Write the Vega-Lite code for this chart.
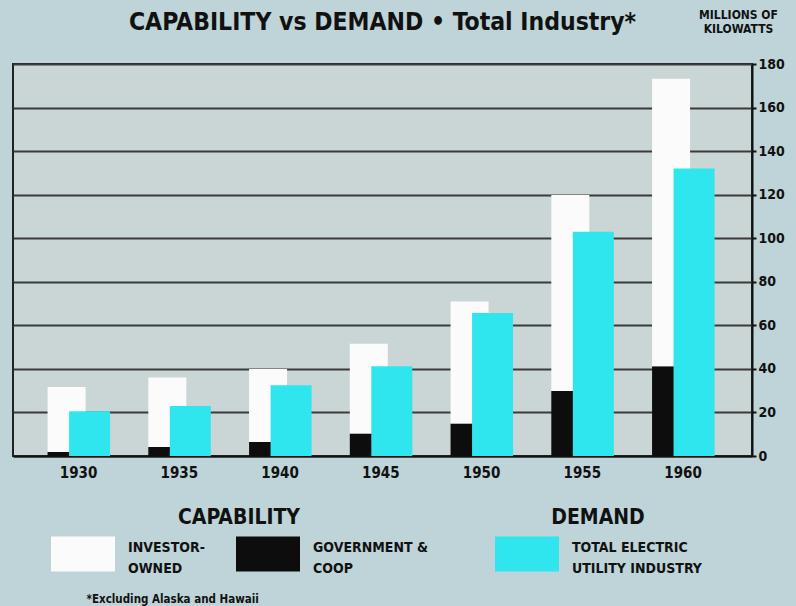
{
  "$schema": "https://vega.github.io/schema/vega-lite/v6.json",
  "width": 739,
  "height": 392,
  "autosize": {"type": "none"},
  "padding": {"left": 13, "top": 64, "right": 44, "bottom": 150},
  "background": "#bed4d8",
  "title": {
    "text": "CAPABILITY vs DEMAND • Total Industry*",
    "font": "Liberation Sans Narrow, DejaVu Sans Condensed, sans-serif",
    "fontSize": 24.5,
    "fontWeight": "bold",
    "color": "#111111",
    "anchor": "middle",
    "offset": -27
  },
  "data": {
    "values": [
      {"year": "1930", "group": "CAPABILITY", "series": "GOVERNMENT & COOP", "value": 1.8},
      {"year": "1930", "group": "CAPABILITY", "series": "INVESTOR-OWNED", "value": 29.9},
      {"year": "1930", "group": "DEMAND", "series": "TOTAL ELECTRIC UTILITY INDUSTRY", "value": 20.5},
      {"year": "1935", "group": "CAPABILITY", "series": "GOVERNMENT & COOP", "value": 4.1},
      {"year": "1935", "group": "CAPABILITY", "series": "INVESTOR-OWNED", "value": 31.9},
      {"year": "1935", "group": "DEMAND", "series": "TOTAL ELECTRIC UTILITY INDUSTRY", "value": 23},
      {"year": "1940", "group": "CAPABILITY", "series": "GOVERNMENT & COOP", "value": 6.4},
      {"year": "1940", "group": "CAPABILITY", "series": "INVESTOR-OWNED", "value": 33.6},
      {"year": "1940", "group": "DEMAND", "series": "TOTAL ELECTRIC UTILITY INDUSTRY", "value": 32.5},
      {"year": "1945", "group": "CAPABILITY", "series": "GOVERNMENT & COOP", "value": 10.3},
      {"year": "1945", "group": "CAPABILITY", "series": "INVESTOR-OWNED", "value": 41.2},
      {"year": "1945", "group": "DEMAND", "series": "TOTAL ELECTRIC UTILITY INDUSTRY", "value": 41.2},
      {"year": "1950", "group": "CAPABILITY", "series": "GOVERNMENT & COOP", "value": 14.9},
      {"year": "1950", "group": "CAPABILITY", "series": "INVESTOR-OWNED", "value": 56.1},
      {"year": "1950", "group": "DEMAND", "series": "TOTAL ELECTRIC UTILITY INDUSTRY", "value": 65.7},
      {"year": "1955", "group": "CAPABILITY", "series": "GOVERNMENT & COOP", "value": 29.9},
      {"year": "1955", "group": "CAPABILITY", "series": "INVESTOR-OWNED", "value": 89.9},
      {"year": "1955", "group": "DEMAND", "series": "TOTAL ELECTRIC UTILITY INDUSTRY", "value": 103},
      {"year": "1960", "group": "CAPABILITY", "series": "GOVERNMENT & COOP", "value": 41.2},
      {"year": "1960", "group": "CAPABILITY", "series": "INVESTOR-OWNED", "value": 132},
      {"year": "1960", "group": "DEMAND", "series": "TOTAL ELECTRIC UTILITY INDUSTRY", "value": 132}
    ]
  },
  "config": {
    "view": {"fill": "#cad5d5", "stroke": "#222222", "strokeWidth": 2},
    "legend": {
      "orient": "none",
      "direction": "horizontal",
      "padding": 0,
      "symbolType": "M-1,-0.547H1V0.547H-1Z",
      "symbolSize": 4096,
      "symbolStrokeWidth": 0,
      "symbolOpacity": 1,
      "labelFont": "Liberation Sans Narrow, DejaVu Sans Condensed, sans-serif",
      "labelFontSize": 14,
      "labelFontWeight": "bold",
      "labelColor": "#111111",
      "labelOffset": 13,
      "labelLimit": 0,
      "titleFont": "Liberation Sans Narrow, DejaVu Sans Condensed, sans-serif",
      "titleFontSize": 21,
      "titleFontWeight": "bold",
      "titleColor": "#111111",
      "titleAnchor": "middle",
      "titlePadding": -6,
      "columnPadding": 31
    }
  },
  "encoding": {
    "x": {
      "field": "year",
      "type": "ordinal",
      "scale": {"paddingInner": 0, "paddingOuter": 0.1675, "align": 0.45},
      "axis": {
        "labelAngle": 0,
        "ticks": false,
        "domainColor": "#111111",
        "domainWidth": 2,
        "labelPadding": 9,
        "labelFont": "Liberation Sans Narrow, DejaVu Sans Condensed, sans-serif",
        "labelFontSize": 15,
        "labelFontWeight": "bold",
        "labelColor": "#111111",
        "title": "*Excluding Alaska and Hawaii",
        "titleFont": "Liberation Sans Narrow, DejaVu Sans Condensed, sans-serif",
        "titleFontSize": 11.5,
        "titleFontWeight": "bold",
        "titleColor": "#111111",
        "titleX": 73,
        "titleY": 146,
        "titleAlign": "left",
        "titleBaseline": "alphabetic"
      }
    },
    "y": {
      "field": "value",
      "type": "quantitative",
      "scale": {"domain": [0, 180], "nice": false},
      "axis": {
        "orient": "right",
        "values": [0, 20, 40, 60, 80, 100, 120, 140, 160, 180],
        "grid": true,
        "gridColor": "#3a3a3a",
        "gridWidth": 2,
        "gridOpacity": 1,
        "domainColor": "#111111",
        "domainWidth": 2,
        "tickColor": "#111111",
        "tickSize": 4,
        "tickWidth": 2,
        "labelFont": "Liberation Sans Narrow, DejaVu Sans Condensed, sans-serif",
        "labelFontSize": 14,
        "labelFontWeight": "bold",
        "labelColor": "#111111",
        "labelPadding": 2,
        "title": ["MILLIONS OF", "KILOWATTS"],
        "titleAngle": 0,
        "titleFont": "Liberation Sans Narrow, DejaVu Sans Condensed, sans-serif",
        "titleFontSize": 12,
        "titleFontWeight": "bold",
        "titleColor": "#111111",
        "titleX": -14,
        "titleY": -46,
        "titleAlign": "center",
        "titleBaseline": "alphabetic",
        "titleLineHeight": 14.5
      }
    }
  },
  "layer": [
    {
      "transform": [{"filter": "datum.group == 'CAPABILITY'"}],
      "mark": {"type": "bar", "width": 38, "xOffset": -12, "strokeWidth": 0},
      "encoding": {
        "fill": {
          "field": "series",
          "type": "nominal",
          "scale": {"domain": ["INVESTOR-OWNED", "GOVERNMENT & COOP"], "range": ["#fbfbfb", "#0d0d0d"]},
          "legend": {
            "title": "CAPABILITY",
            "legendX": 38,
            "legendY": 443,
            "columns": 2,
            "labelExpr": "datum.label == 'INVESTOR-OWNED' ? ['INVESTOR-', 'OWNED'] : ['GOVERNMENT &', 'COOP']",
            "encode": {"labels": {"update": {"lineHeight": {"value": 21}, "dy": {"value": -6}}}}
          }
        },
        "order": {"field": "series", "sort": "ascending"}
      }
    },
    {
      "transform": [{"filter": "datum.group == 'DEMAND'"}],
      "mark": {"type": "bar", "width": 41, "xOffset": 11, "strokeWidth": 0},
      "encoding": {
        "fill": {
          "field": "series",
          "type": "nominal",
          "scale": {"domain": ["TOTAL ELECTRIC UTILITY INDUSTRY"], "range": ["#30e6ee"]},
          "legend": {
            "title": "DEMAND",
            "legendX": 482,
            "legendY": 443,
            "labelExpr": "['TOTAL ELECTRIC', 'UTILITY INDUSTRY']",
            "encode": {"labels": {"update": {"lineHeight": {"value": 21}, "dy": {"value": -6}}}}
          }
        }
      }
    }
  ],
  "resolve": {"scale": {"fill": "independent"}, "legend": {"fill": "independent"}}
}
